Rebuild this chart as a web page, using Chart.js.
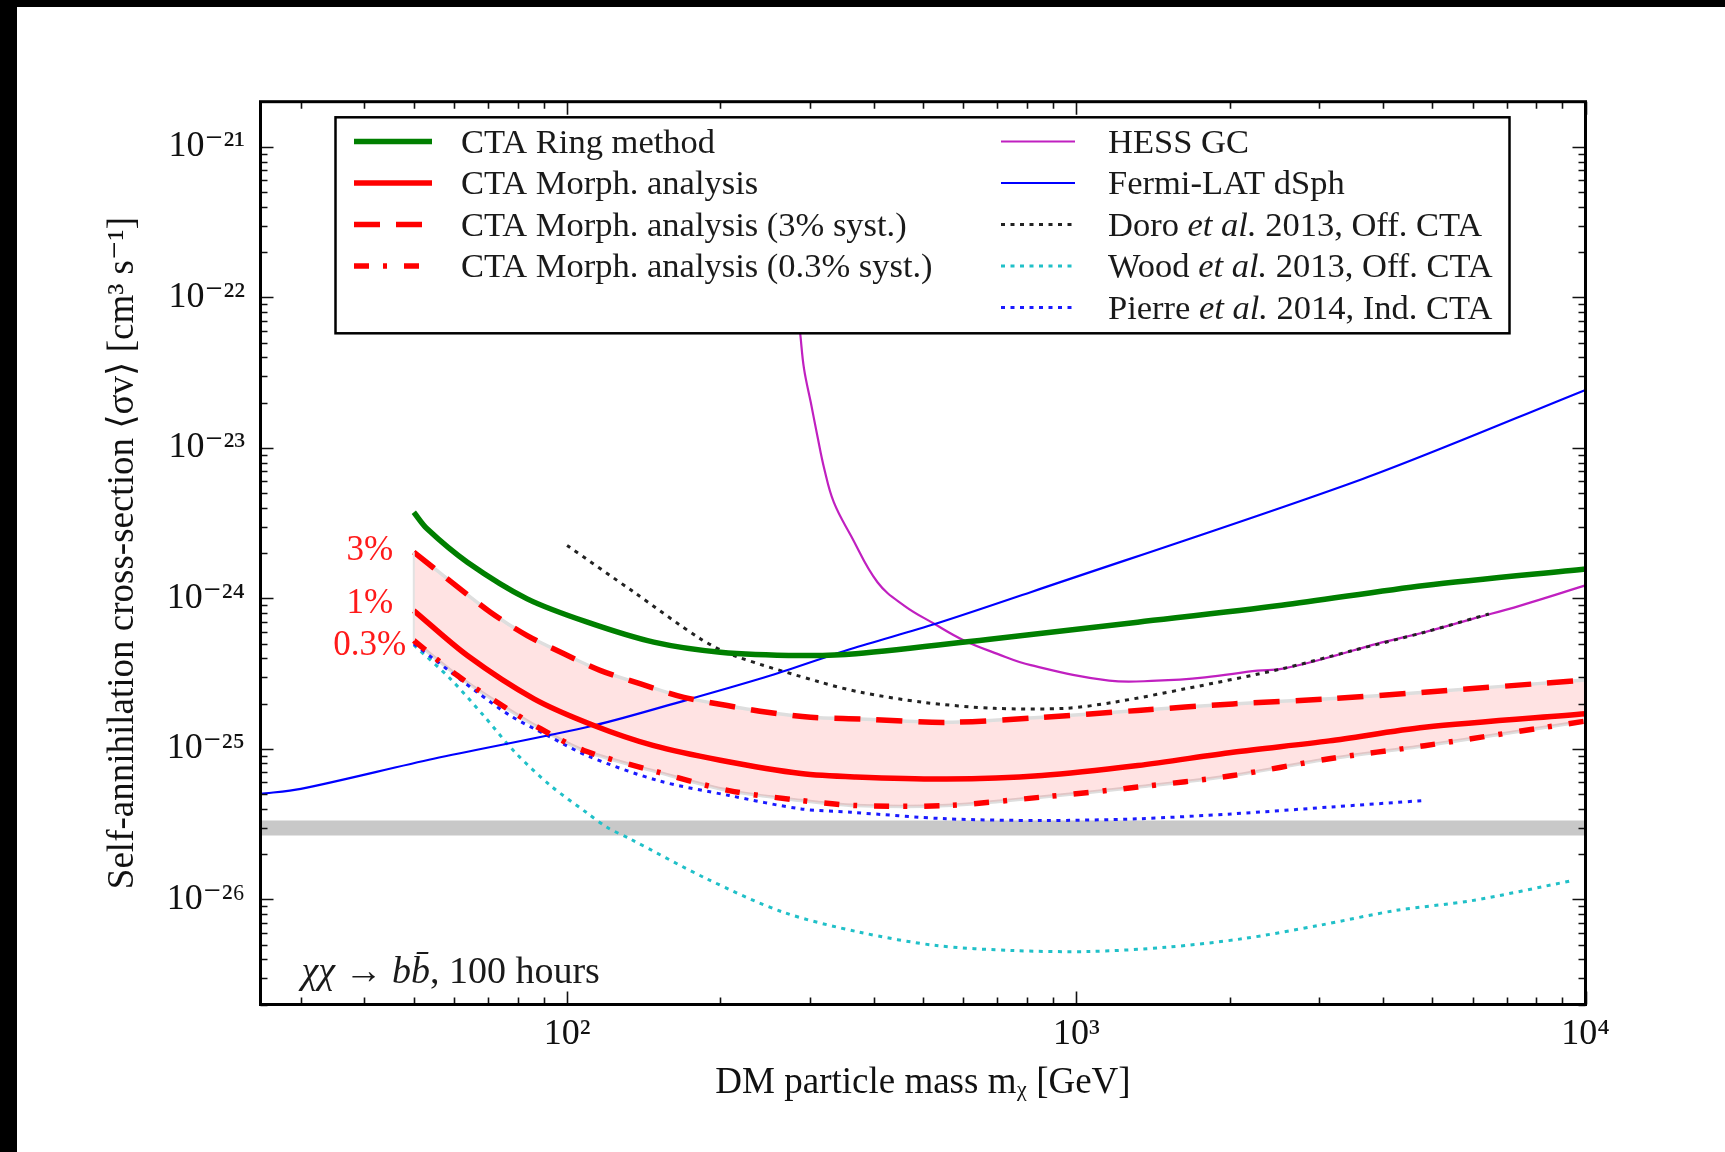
<!DOCTYPE html>
<html><head><meta charset="utf-8">
<script src="https://cdn.jsdelivr.net/npm/chart.js@4.4.1/dist/chart.umd.min.js"></script>
<style>
html,body{margin:0;padding:0;background:#fff;width:1725px;height:1152px;overflow:hidden}
#wrap{position:relative;width:1725px;height:1152px;background:#fff}
canvas{position:absolute;left:0;top:0}
.bar{position:absolute;background:#000}
</style></head><body>
<div id="wrap">
<canvas id="c" width="1725" height="1152"></canvas>
<div class="bar" style="left:0;top:0;width:1725px;height:7px"></div>
<div class="bar" style="left:0;top:0;width:17px;height:1152px"></div>
</div>
<script>
const FONT = "'Liberation Serif','DejaVu Serif',serif";

// ---- data: DM mass [GeV] and <sigma v> [cm^3 s^-1] ----
const ringMass  = [50, 53.1, 63.7, 83.5, 109.6, 148, 200, 288, 369, 690, 1320, 2530, 4830, 10000];
const ringSigma = [3.74e-24, 2.9e-24, 1.74e-24, 9.93e-25, 6.95e-25, 5.12e-25, 4.39e-25, 4.17e-25, 4.28e-25, 5.4e-25, 6.95e-25, 9.0e-25, 1.22e-24, 1.57e-24];

const morphMass  = [50, 63.7, 86.1, 112.9, 148, 200, 288, 369, 556, 856, 1320, 2030, 3140, 4830, 10000];
const morphSigma = [8.3e-25, 4.17e-25, 2.15e-25, 1.43e-25, 1.05e-25, 8.4e-26, 6.85e-26, 6.5e-26, 6.3e-26, 6.65e-26, 7.75e-26, 9.5e-26, 1.13e-25, 1.39e-25, 1.71e-25];

const morph3Mass  = [50, 59.9, 70.7, 83.5, 98.6, 116.4, 139.5, 169.6, 206.4, 247.4, 300.8, 377, 556, 856, 1320, 2030, 3140, 4830, 10000];
const morph3Sigma = [2.03e-24, 1.25e-24, 8.09e-25, 5.66e-25, 4.28e-25, 3.31e-25, 2.70e-25, 2.20e-25, 1.94e-25, 1.75e-25, 1.62e-25, 1.58e-25, 1.50e-25, 1.62e-25, 1.80e-25, 1.99e-25, 2.15e-25, 2.38e-25, 2.87e-25];

const morph03Mass  = [50, 60.9, 72.9, 88.7, 107.9, 151, 208, 288, 369, 556, 856, 1320, 2030, 3140, 4830, 10000];
const morph03Sigma = [5.25e-25, 3.07e-25, 2.04e-25, 1.36e-25, 9.75e-26, 7.0e-26, 5.28e-26, 4.54e-26, 4.2e-26, 4.2e-26, 4.78e-26, 5.57e-26, 6.65e-26, 8.6e-26, 1.05e-25, 1.53e-25];

const hessMass  = [275, 287, 292, 301, 310, 320, 334, 361, 407, 459, 526, 602, 700, 814, 1160, 1440, 1790, 2270, 2530, 3140, 3890, 4830, 6000, 7450, 10000];
const hessSigma = [2.1e-22, 5.72e-23, 3.35e-23, 2.01e-23, 1.21e-23, 7.25e-24, 4.36e-24, 2.61e-24, 1.28e-24, 8.96e-25, 6.78e-25, 5.25e-25, 4.28e-25, 3.6e-25, 2.84e-25, 2.84e-25, 2.99e-25, 3.31e-25, 3.4e-25, 4.06e-25, 4.99e-25, 5.96e-25, 7.31e-25, 8.96e-25, 1.22e-24];

const fermiMass  = [25, 30, 54.7, 112.9, 174.8, 250.9, 360.5, 529.6, 813.6, 3650, 10000];
const fermiSigma = [5.02e-26, 5.42e-26, 8.6e-26, 1.43e-25, 2.15e-25, 3.07e-25, 4.61e-25, 6.78e-25, 1.1e-24, 6.22e-24, 2.43e-23];

const doroMass  = [100, 135.3, 182.9, 212.6, 314.8, 377, 499, 690, 953, 1184, 1640, 2530, 3490, 4830, 6460];
const doroSigma = [2.25e-24, 1.1e-24, 5.38e-25, 4.17e-25, 2.77e-25, 2.38e-25, 2.04e-25, 1.86e-25, 1.86e-25, 2.04e-25, 2.51e-25, 3.4e-25, 4.5e-25, 5.96e-25, 7.88e-25];

const woodMass  = [50, 59, 68.6, 79, 92.8, 109, 120, 133, 188, 266, 375, 531, 750, 1060, 1500, 2120, 2990, 4240, 5980, 9400];
const woodSigma = [4.9e-25, 2.92e-25, 1.66e-25, 9.5e-26, 5.7e-26, 3.79e-26, 3.0e-26, 2.52e-26, 1.37e-26, 8.2e-27, 6.05e-27, 4.93e-27, 4.57e-27, 4.5e-27, 4.8e-27, 5.47e-27, 6.7e-27, 8.43e-27, 9.8e-27, 1.33e-26];

const pierreMass  = [50, 54.7, 66.6, 77.4, 91.4, 109.6, 151, 208, 288, 361, 556, 856, 1320, 2030, 3140, 4830];
const pierreSigma = [4.99e-25, 3.96e-25, 2.38e-25, 1.66e-25, 1.23e-25, 9.0e-26, 6.15e-26, 4.9e-26, 3.99e-26, 3.79e-26, 3.43e-26, 3.34e-26, 3.43e-26, 3.7e-26, 4.1e-26, 4.54e-26];

const relicRangeMass = [25, 10000];
const relicLow = 2.66e-26;
const relicHigh = 3.34e-26;

// ---- axes ----
const xMin = 25, xMax = 10000, yMin = 2e-27, yMax = 2e-21;
const xTickValues = [100, 1000, 10000];
const xTickLabels = ['10²', '10³', '10⁴'];
const yTickValues = [1e-26, 1e-25, 1e-24, 1e-23, 1e-22, 1e-21];
const yTickLabels = ['10⁻²⁶', '10⁻²⁵', '10⁻²⁴', '10⁻²³', '10⁻²²', '10⁻²¹'];

const legendLeft  = ['CTA Ring method', 'CTA Morph. analysis', 'CTA Morph. analysis (3% syst.)', 'CTA Morph. analysis (0.3% syst.)'];
const legendRight = ['HESS GC', 'Fermi-LAT dSph', 'Doro et al. 2013, Off. CTA', 'Wood et al. 2013, Off. CTA', 'Pierre et al. 2014, Ind. CTA'];
const bandLabels = ['3%', '1%', '0.3%'];

const pts = (m, s) => m.map((v, i) => ({x: v, y: s[i]}));
const labelFor = (v, vals, labs) => {
  for (let i = 0; i < vals.length; i++) if (Math.abs(Math.log10(v) - Math.log10(vals[i])) < 1e-6) return labs[i];
  return '';
};

const base = {pointRadius: 0, pointHoverRadius: 0, fill: false, cubicInterpolationMode: 'default', tension: 0.3, borderCapStyle: 'butt'};

const datasets = [
  Object.assign({}, base, {label: 'CTA Ring method', data: pts(ringMass, ringSigma), borderColor: '#007f00', borderWidth: 5.5, order: 1}),
  Object.assign({}, base, {label: 'CTA Morph. analysis', data: pts(morphMass, morphSigma), borderColor: '#ff0000', borderWidth: 5.5, order: 2}),
  Object.assign({}, base, {label: 'CTA Morph. analysis (3% syst.)', data: pts(morph3Mass, morph3Sigma), borderColor: '#ff0000', borderWidth: 5.5, borderDash: [26, 16], order: 3}),
  Object.assign({}, base, {label: 'CTA Morph. analysis (0.3% syst.)', data: pts(morph03Mass, morph03Sigma), borderColor: '#ff0000', borderWidth: 5.5, borderDash: [15, 14, 4, 17], order: 4}),
  Object.assign({}, base, {label: 'HESS GC', data: pts(hessMass, hessSigma), borderColor: '#c020c0', borderWidth: 2.2, tension: 0.4, order: 8}),
  Object.assign({}, base, {label: 'Fermi-LAT dSph', data: pts(fermiMass, fermiSigma), borderColor: '#0000ff', borderWidth: 2.2, order: 5}),
  Object.assign({}, base, {label: 'Doro et al. 2013, Off. CTA', data: pts(doroMass, doroSigma), borderColor: '#222222', borderWidth: 3, borderDash: [4, 5.5], order: 7}),
  Object.assign({}, base, {label: 'Wood et al. 2013, Off. CTA', data: pts(woodMass, woodSigma), borderColor: '#20c0c8', borderWidth: 3, borderDash: [4, 5.5], order: 9}),
  Object.assign({}, base, {label: 'Pierre et al. 2014, Ind. CTA', data: pts(pierreMass, pierreSigma), borderColor: '#1a1aff', borderWidth: 3, borderDash: [4, 5.5], order: 6}),
  // systematics band (between 3% and 0.3%)
  Object.assign({}, base, {label: '_bandUpper', data: pts(morph3Mass, morph3Sigma), borderColor: '#dedede', borderWidth: 3.5, fill: '+1', backgroundColor: 'rgba(255,0,0,0.11)', order: 50}),
  Object.assign({}, base, {label: '_bandLower', data: pts(morph03Mass, morph03Sigma), borderColor: '#dedede', borderWidth: 3.5, order: 51}),
  // thermal relic band
  Object.assign({}, base, {label: '_relic', data: relicRangeMass.map(m => ({x: m, y: relicHigh})), tension: 0, borderWidth: 0, borderColor: 'rgba(0,0,0,0)', fill: {value: relicLow}, backgroundColor: '#c8c8c8', order: 100})
];

function richSegments(text) {
  const i = text.indexOf('et al.');
  if (i < 0) return [{t: text, it: false}];
  return [{t: text.slice(0, i), it: false}, {t: 'et al.', it: true}, {t: text.slice(i + 6), it: false}];
}
function drawRich(ctx, x, y, segs, size) {
  let cx = x;
  for (const s of segs) {
    ctx.font = (s.it ? 'italic ' : '') + size + 'px ' + FONT;
    ctx.fillText(s.t, cx, y);
    cx += ctx.measureText(s.t).width;
  }
}

const frameTicks = {
  id: 'frameTicks',
  afterDatasetsDraw(chart) {
    const {ctx, chartArea: a, scales: {x, y}} = chart;
    ctx.save();
    // light grey left edge of the systematics band
    ctx.strokeStyle = '#e2e2e2';
    ctx.lineWidth = 2;
    const ex = x.getPixelForValue(morph3Mass[0]);
    ctx.beginPath(); ctx.moveTo(ex, y.getPixelForValue(morph3Sigma[0])); ctx.lineTo(ex, y.getPixelForValue(morph03Sigma[0])); ctx.stroke();

    ctx.strokeStyle = '#111';
    ctx.lineWidth = 1.6;
    const xMinor = [], yMinor = [];
    for (const d of [10, 100, 1000]) for (let k = 2; k <= 9; k++) { const v = k * d; if (v >= xMin && v <= xMax) xMinor.push(v); }
    for (let e = -27; e <= -22; e++) for (let k = 2; k <= 9; k++) { const v = k * Math.pow(10, e); if (v >= yMin * 0.999 && v <= yMax) yMinor.push(v); }
    const tickX = (v, len) => { const p = Math.round(x.getPixelForValue(v)) + 0.5; ctx.beginPath(); ctx.moveTo(p, a.bottom); ctx.lineTo(p, a.bottom - len); ctx.moveTo(p, a.top); ctx.lineTo(p, a.top + len); ctx.stroke(); };
    const tickY = (v, len) => { const p = Math.round(y.getPixelForValue(v)) + 0.5; ctx.beginPath(); ctx.moveTo(a.left, p); ctx.lineTo(a.left + len, p); ctx.moveTo(a.right, p); ctx.lineTo(a.right - len, p); ctx.stroke(); };
    xMinor.forEach(v => tickX(v, 7)); xTickValues.forEach(v => tickX(v, 13));
    yMinor.forEach(v => tickY(v, 7)); yTickValues.forEach(v => tickY(v, 13));
    ctx.lineWidth = 3;
    ctx.strokeStyle = '#000';
    ctx.strokeRect(a.left, a.top, a.right - a.left, a.bottom - a.top);

    // band labels
    ctx.fillStyle = '#ff1a1a';
    ctx.font = '35px ' + FONT;
    ctx.textAlign = 'center';
    ctx.textBaseline = 'middle';
    const starts = [[morph3Mass, morph3Sigma, -1], [morphMass, morphSigma, -7], [morph03Mass, morph03Sigma, 5]];
    starts.forEach((s, i) => {
      ctx.fillText(bandLabels[i], x.getPixelForValue(s[0][0]) - 44, y.getPixelForValue(s[1][0]) + s[2]);
    });

    // process annotation
    ctx.fillStyle = '#1a1a1a';
    ctx.textAlign = 'left';
    ctx.textBaseline = 'alphabetic';
    drawRich(ctx, a.left + 41, a.bottom - 22, [{t: 'χχ', it: true}, {t: ' → ', it: false}, {t: 'bb\u0304', it: true}, {t: ', 100 hours', it: false}], 38);
    ctx.restore();
  },
  afterDraw(chart) {
    const {ctx, chartArea: a} = chart;
    ctx.save();
    const bx = a.left + 75, by = a.top + 15.6, bw = 1174, bh = 216;
    ctx.fillStyle = '#fff';
    ctx.fillRect(bx, by, bw, bh);
    ctx.lineWidth = 2.5;
    ctx.strokeStyle = '#000';
    ctx.strokeRect(bx, by, bw, bh);
    const rowY = i => a.top + 39.8 + i * 41.5;
    const cols = [
      {labels: legendLeft, x1: a.left + 93.5, x2: a.left + 171.5, tx: a.left + 200.5},
      {labels: legendRight, x1: a.left + 740.5, x2: a.left + 814.5, tx: a.left + 847.5}
    ];
    ctx.textBaseline = 'middle';
    ctx.textAlign = 'left';
    for (const c of cols) {
      c.labels.forEach((lab, i) => {
        const ds = chart.data.datasets.find(d => d.label === lab);
        const yy = rowY(i);
        ctx.save();
        ctx.strokeStyle = ds.borderColor;
        ctx.lineWidth = ds.borderWidth;
        ctx.setLineDash(ds.borderDash || []);
        ctx.lineCap = 'butt';
        ctx.beginPath(); ctx.moveTo(c.x1, yy); ctx.lineTo(c.x2, yy); ctx.stroke();
        ctx.restore();
        ctx.fillStyle = '#1a1a1a';
        drawRich(ctx, c.tx, yy + 2, richSegments(lab), 34.5);
      });
    }
    ctx.restore();
  }
};

new Chart(document.getElementById('c'), {
  type: 'line',
  data: {datasets},
  options: {
    responsive: false,
    animation: false,
    devicePixelRatio: 1,
    layout: {padding: {left: 0, right: 139.5, top: 101.7, bottom: 0}},
    plugins: {legend: {display: false}, tooltip: {enabled: false}},
    scales: {
      x: {
        type: 'logarithmic', position: 'bottom', min: xMin, max: xMax,
        grid: {display: false, drawTicks: false}, border: {display: false},
        afterBuildTicks: s => { s.ticks = xTickValues.map(v => ({value: v})); },
        afterFit: s => { s.height = 147.5; },
        ticks: {autoSkip: false, maxRotation: 0, padding: 8, color: '#111', font: {family: FONT, size: 36},
                callback: v => labelFor(v, xTickValues, xTickLabels)},
        title: {display: true, text: 'DM particle mass mᵪ [GeV]', color: '#111', font: {family: FONT, size: 37}, padding: {top: 0, bottom: 46.8}}
      },
      y: {
        type: 'logarithmic', position: 'left', min: yMin, max: yMax,
        grid: {display: false, drawTicks: false}, border: {display: false},
        afterBuildTicks: s => { s.ticks = yTickValues.map(v => ({value: v})); },
        afterFit: s => { s.width = 260.5; },
        ticks: {autoSkip: false, padding: 15.5, color: '#111', font: {family: FONT, size: 36},
                callback: v => labelFor(v, yTickValues, yTickLabels)},
        title: {display: true, text: 'Self-annihilation cross-section ⟨σv⟩ [cm³ s⁻¹]', color: '#111', font: {family: FONT, size: 37}, padding: {top: 100.8, bottom: 0}}
      }
    }
  },
  plugins: [frameTicks]
});
</script>
</body></html>
